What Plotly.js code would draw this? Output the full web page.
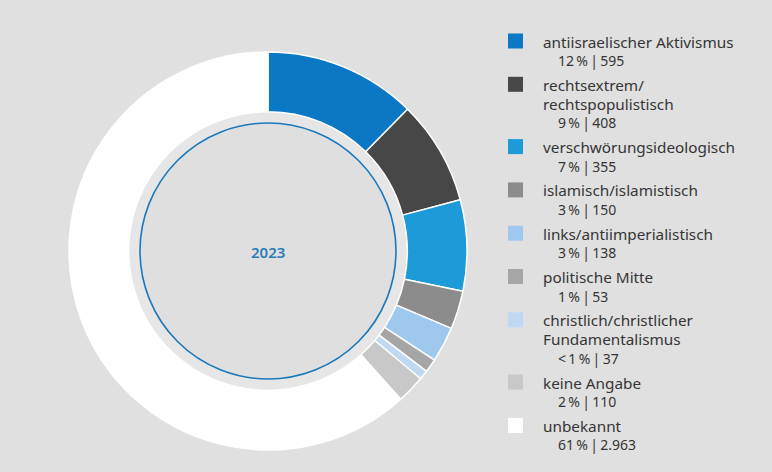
<!DOCTYPE html>
<html>
<head>
<meta charset="utf-8">
<script src="https://cdn.plot.ly/plotly-3.0.1.min.js"></script>
<style>
html,body{margin:0;padding:0;background:#e0e0e0;}
#chart{width:772px;height:472px;}
</style>
</head>
<body>
<div id="chart"></div>
<script>
// ---- data ----
const labels = [
  "antiisraelischer Aktivismus",
  "rechtsextrem/<br>rechtspopulistisch",
  "verschwörungsideologisch",
  "islamisch/islamistisch",
  "links/antiimperialistisch",
  "politische Mitte",
  "christlich/christlicher<br>Fundamentalismus",
  "keine Angabe",
  "unbekannt"
];
const values = [595, 408, 355, 150, 138, 53, 37, 110, 2963];
const pctLabels = ["12\u2009%", "9\u2009%", "7\u2009%", "3\u2009%", "3\u2009%", "1\u2009%", "<\u20091\u2009%", "2\u2009%", "61\u2009%"];
const valueLabels = ["595", "408", "355", "150", "138", "53", "37", "110", "2.963"];
const colors = ["#0a78c4", "#474747", "#1d9ad8", "#8c8c8c", "#9fc8ee", "#a6a6a6", "#c0d9f2", "#c8c8c8", "#ffffff"];
const centerLabel = "2023";

// ---- layout helpers ----
const W = 772, H = 472;
const px = x => x / W;
const py = y => 1 - y / H;
const cx = 268, cy = 251, R = 199, holeR = 139, ringR = 128;

const font = "'Noto Sans', 'Open Sans', sans-serif";
const textColor = "#353535";

const trace = {
  type: "pie",
  labels: labels.map(l => l.replace("<br>", " ")),
  values: values,
  sort: false,
  direction: "clockwise",
  rotation: 0,
  hole: 0.70,
  textinfo: "none",
  hoverinfo: "none",
  showlegend: false,
  marker: { colors: colors, line: { color: "#ffffff", width: 1.5 } },
  domain: { x: [px(cx - R), px(cx + R)], y: [py(cy + R), py(cy - R)] }
};

const annotations = [];
const shapes = [];

// lighter band inside the hole
shapes.push({
  type: "circle", xref: "paper", yref: "paper", layer: "below",
  x0: px(cx - holeR), x1: px(cx + holeR), y0: py(cy + holeR), y1: py(cy - holeR),
  line: { width: 0 }, fillcolor: "#e6e6e6"
});
// inner ring circle
shapes.push({
  type: "circle", xref: "paper", yref: "paper", layer: "below",
  x0: px(cx - ringR), x1: px(cx + ringR), y0: py(cy + ringR), y1: py(cy - ringR),
  line: { color: "#1a78bd", width: 1.6 }, fillcolor: "#dfdfdf"
});

annotations.push({
  xref: "paper", yref: "paper", x: px(cx), y: py(cy + 1),
  text: centerLabel, showarrow: false, xanchor: "center", yanchor: "middle",
  font: { family: font, size: 15, color: "#2a7db8", weight: 600 }
});

// legend
const lineStep = 19, gap = 24.3;
let y = 41.5;
labels.forEach((lab, i) => {
  const lines = lab.split("<br>");
  shapes.push({
    type: "rect", xref: "paper", yref: "paper",
    x0: px(508), x1: px(523), y0: py(y + 7), y1: py(y - 8),
    fillcolor: colors[i], line: { width: 0 }
  });
  lines.forEach((ln, k) => {
    annotations.push({
      xref: "paper", yref: "paper", x: px(541), y: py(y + k * lineStep),
      text: ln, showarrow: false, xanchor: "left", yanchor: "middle",
      font: { family: font, size: 15.3, color: textColor }
    });
  });
  const sy = y + lines.length * lineStep;
  annotations.push({
    xref: "paper", yref: "paper", x: px(556), y: py(sy),
    text: pctLabels[i] + "\u2009|\u2009" + valueLabels[i], showarrow: false, xanchor: "left", yanchor: "middle",
    font: { family: font, size: 14, color: textColor }
  });
  y = sy + gap;
});

const layout = {
  width: W, height: H,
  margin: { l: 0, r: 0, t: 0, b: 0 },
  paper_bgcolor: "#e0e0e0",
  plot_bgcolor: "#e0e0e0",
  shapes: shapes,
  annotations: annotations,
  showlegend: false
};

Plotly.newPlot("chart", [trace], layout, { displayModeBar: false, staticPlot: true });
</script>
</body>
</html>
